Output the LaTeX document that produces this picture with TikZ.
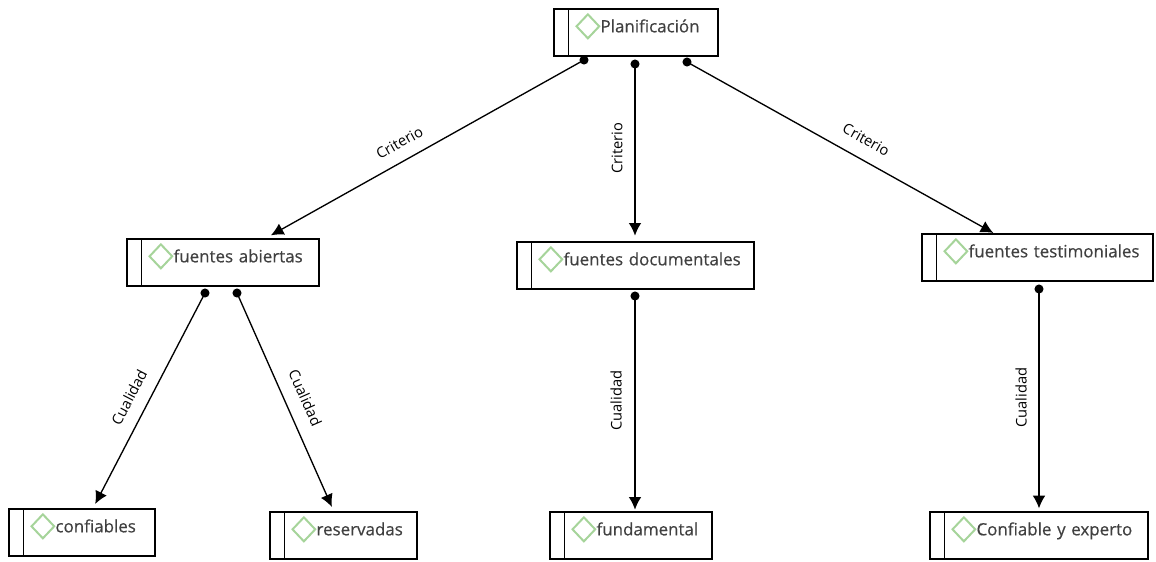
\documentclass[tikz,border=0pt]{standalone}
\usepackage{fontspec}
\setmainfont{Open Sans}
\newfontfamily\cajafont[RawFeature={embolden=0.5}]{Open Sans}
\usepackage{tikz}
\usetikzlibrary{arrows.meta}
\definecolor{rombo}{HTML}{A6D49A}
\definecolor{letra}{HTML}{404040}
\tikzset{
	caja/.style={draw=black,line width=1.3pt,anchor=north west,inner xsep=0pt,inner ysep=0pt,
		text width=#1*0.75pt,align=left,text height=17.6pt,text depth=17.6pt,
		font=\cajafont\fontsize{12.7}{14}\selectfont,text=letra,
		execute at begin node={\hspace*{35pt}},
		path picture={
			\draw[line width=1.3pt] ([xshift=11pt]path picture bounding box.north west) -- ([xshift=11pt]path picture bounding box.south west);
			\draw[draw=rombo,line width=1.5pt] ([xshift=25.5pt,yshift=4.5pt]path picture bounding box.west) +(-8.5pt,0) -- +(0,9pt) -- +(8.5pt,0) -- +(0,-9pt) -- cycle;
		}},
	punto/.style={circle,fill=black,inner sep=0pt,minimum size=6.8pt},
	flecha/.style={line width=1pt,-{Latex[length=9.5pt,width=9.5pt]}},
	etiqueta/.style={midway,sloped,font=\fontsize{11}{13}\selectfont,text=black,inner sep=1pt}
}

\begin{document}
\begin{tikzpicture}[x=0.75pt,y=-0.75pt]
	\useasboundingbox (0,0) rectangle (1156,561);

	\node[caja=164] (plan) at (553,8) {Planificación};

	\node[caja=192] (abiertas) at (126,238) {fuentes abiertas};
	\node[caja=237] (documentales) at (516,241) {fuentes documentales};
	\node[caja=231] (testimoniales) at (921,233) {fuentes testimoniales};

	\node[caja=146] (confiables) at (8,508) {confiables};
	\node[caja=147] (reservadas) at (269,511) {reservadas};
	\node[caja=162] (fundamental) at (549,511) {fundamental};
	\node[caja=218] (experto) at (929,511) {Confiable y experto};

	\node[punto] (p1) at (584,60) {};
	\node[punto] (p2) at (635,64) {};
	\node[punto] (p3) at (687,62) {};
	\node[punto] (a1) at (205,293) {};
	\node[punto] (a2) at (237,293) {};
	\node[punto] (d1) at (635,296) {};
	\node[punto] (t1) at (1039,289) {};

	\draw[flecha] (p1.center) -- ([xshift=36pt,yshift=2pt]abiertas.north) node[etiqueta,shift={(-22,-18)}] (c1) {Criterio};
	\draw[flecha] (p2.center) -- ([yshift=4pt]documentales.north -| p2) node[etiqueta,shift={(-1.5,18)},rotate=180] (c2) {Criterio};
	\draw[flecha] (p3.center) -- ([xshift=-33pt]testimoniales.north) node[etiqueta,shift={(19,-19.5)}] (c3) {Criterio};

	\draw[flecha] (a1.center) -- ([xshift=10pt,yshift=3pt]confiables.north) node[etiqueta,shift={(-8.5,-19.3)}] (q1) {Cualidad};
	\draw[flecha] (a2.center) -- ([xshift=-8.6pt,yshift=3pt]reservadas.north) node[etiqueta,shift={(6.6,-20)}] (q2) {Cualidad};
	\draw[flecha] (d1.center) -- ([yshift=1pt]fundamental.north -| d1) node[etiqueta,shift={(-2,19)},rotate=180] (q3) {Cualidad};
	\draw[flecha] (t1.center) -- ([yshift=2pt]experto.north -| t1) node[etiqueta,shift={(-1,18)},rotate=180] (q4) {Cualidad};

\end{tikzpicture}
\end{document}
